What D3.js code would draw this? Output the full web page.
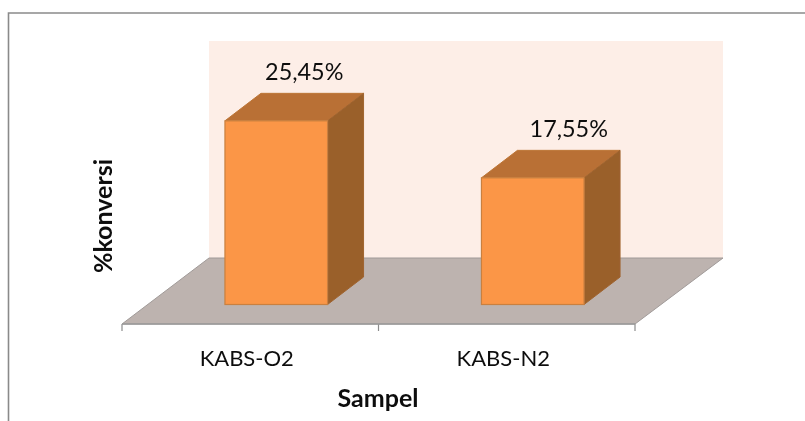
<!DOCTYPE html>
<html><head><meta charset="utf-8">
<script src="https://cdn.jsdelivr.net/npm/d3@7"></script>
<style>html,body{margin:0;padding:0;background:#fff}svg{display:block}text{font-family:Lato,Carlito,sans-serif;fill:#111}</style>
</head><body><div id="chart"></div>
<script>
const categories = ["KABS-O2", "KABS-N2"];
const values = [25.45, 17.55];
const valueLabels = ["25,45%", "17,55%"];
const xTitle = "Sampel";
const yTitle = "%konversi";

const W = 805, H = 421;
const depthX = 87, depthY = -66;        // floor depth
const barDX = 36, barDY = -27.5;        // bar depth
const x0 = 122, x1 = 635, floorY = 324;
const labelShift = [-8, 0];             // value label nudges, as placed in the original

const svg = d3.select("#chart").append("svg").attr("width", W).attr("height", H);
const defs = svg.append("defs");
defs.append("filter").attr("id", "soft").append("feGaussianBlur").attr("stdDeviation", 0.45);
defs.append("filter").attr("id", "softText").append("feGaussianBlur").attr("stdDeviation", 0.3);

// chart frame
svg.append("path").attr("d", `M8.5,${H} V13 H${W}`).attr("fill", "none").attr("stroke", "#8a8a8a").attr("stroke-width", 1.6);

const y = d3.scaleLinear().domain([0, 30]).range([304.5, 88]);
const xBars = d3.scaleBand().domain(categories).range([x0 + 26, x1 + 26]).paddingInner(0.6).paddingOuter(0.3);
const xAxisScale = d3.scaleBand().domain(categories).range([x0, x1]);

const g = svg.append("g").attr("filter", "url(#soft)");

// back wall
g.append("rect").attr("x", x0 + depthX).attr("y", 41).attr("width", x1 - x0 + 1).attr("height", floorY + depthY - 41).attr("fill", "#fdeee7");
// floor
g.append("path")
  .attr("d", d3.line()([[x0, floorY], [x1, floorY], [x1 + depthX + 1, floorY + depthY], [x0 + depthX, floorY + depthY]]) + "Z")
  .attr("fill", "#bdb3af").attr("stroke", "#a09a98").attr("stroke-width", 1);

// bars
const rows = categories.map((c, i) => ({c, v: values[i], label: valueLabels[i], shift: labelShift[i]}));
const bars = g.selectAll("g.bar").data(rows).join("g").attr("class", "bar");
bars.append("path").attr("d", d => {
  const l = xBars(d.c), r = l + xBars.bandwidth(), t = y(d.v);
  return d3.line()([[l, t], [l + barDX, t + barDY], [r + barDX, t + barDY], [r, t]]) + "Z";
}).attr("fill", "#b97034").attr("stroke", "#bd7638").attr("stroke-width", 1);
bars.append("path").attr("d", d => {
  const r = xBars(d.c) + xBars.bandwidth(), t = y(d.v), b = y(0);
  return d3.line()([[r, t], [r + barDX, t + barDY], [r + barDX, b + barDY], [r, b]]) + "Z";
}).attr("fill", "#9a602c").attr("stroke", "#a0642f").attr("stroke-width", 1);
bars.append("rect")
  .attr("x", d => xBars(d.c)).attr("y", d => y(d.v))
  .attr("width", xBars.bandwidth()).attr("height", d => y(0) - y(d.v))
  .attr("fill", "#fb9646").attr("stroke", "#c98041").attr("stroke-width", 1.2);

// axis
const axis = d3.axisBottom(xAxisScale).tickSize(0).tickPadding(26);
const ax = svg.append("g").attr("transform", `translate(0,${floorY})`).call(axis);
ax.select(".domain").remove();
ax.selectAll("text").attr("font-size", 22).style("font-family", "Lato").attr("dx", -3.5).attr("filter", "url(#softText)");
const tickPos = [...categories.map(c => xAxisScale(c)), x1];
ax.selectAll("line.t").data(tickPos).join("line").attr("class", "t")
  .attr("x1", d => d).attr("x2", d => d).attr("y1", 0).attr("y2", 7).attr("stroke", "#8c8c8c").attr("stroke-width", 1.2);
ax.append("line").attr("x1", x0).attr("x2", x1).attr("y1", 0).attr("y2", 0).attr("stroke", "#9a9a9a").attr("stroke-width", 1.4);

// value labels
svg.selectAll("text.val").data(rows).join("text")
  .attr("class", "val")
  .attr("x", d => xBars(d.c) + xBars.bandwidth() / 2 + barDX + d.shift)
  .attr("y", d => y(d.v) + barDY - 13)
  .attr("text-anchor", "middle").attr("font-size", 23.4).attr("filter", "url(#softText)").text(d => d.label);

// titles
svg.append("text").attr("x", 378).attr("y", 407).attr("text-anchor", "middle").attr("font-size", 25).attr("font-weight", 700).attr("filter", "url(#softText)").text(xTitle);
svg.append("text").attr("transform", "translate(112,216) rotate(-90)").attr("text-anchor", "middle").attr("font-size", 25).attr("font-weight", 700).attr("filter", "url(#softText)").text(yTitle);
</script></body></html>
